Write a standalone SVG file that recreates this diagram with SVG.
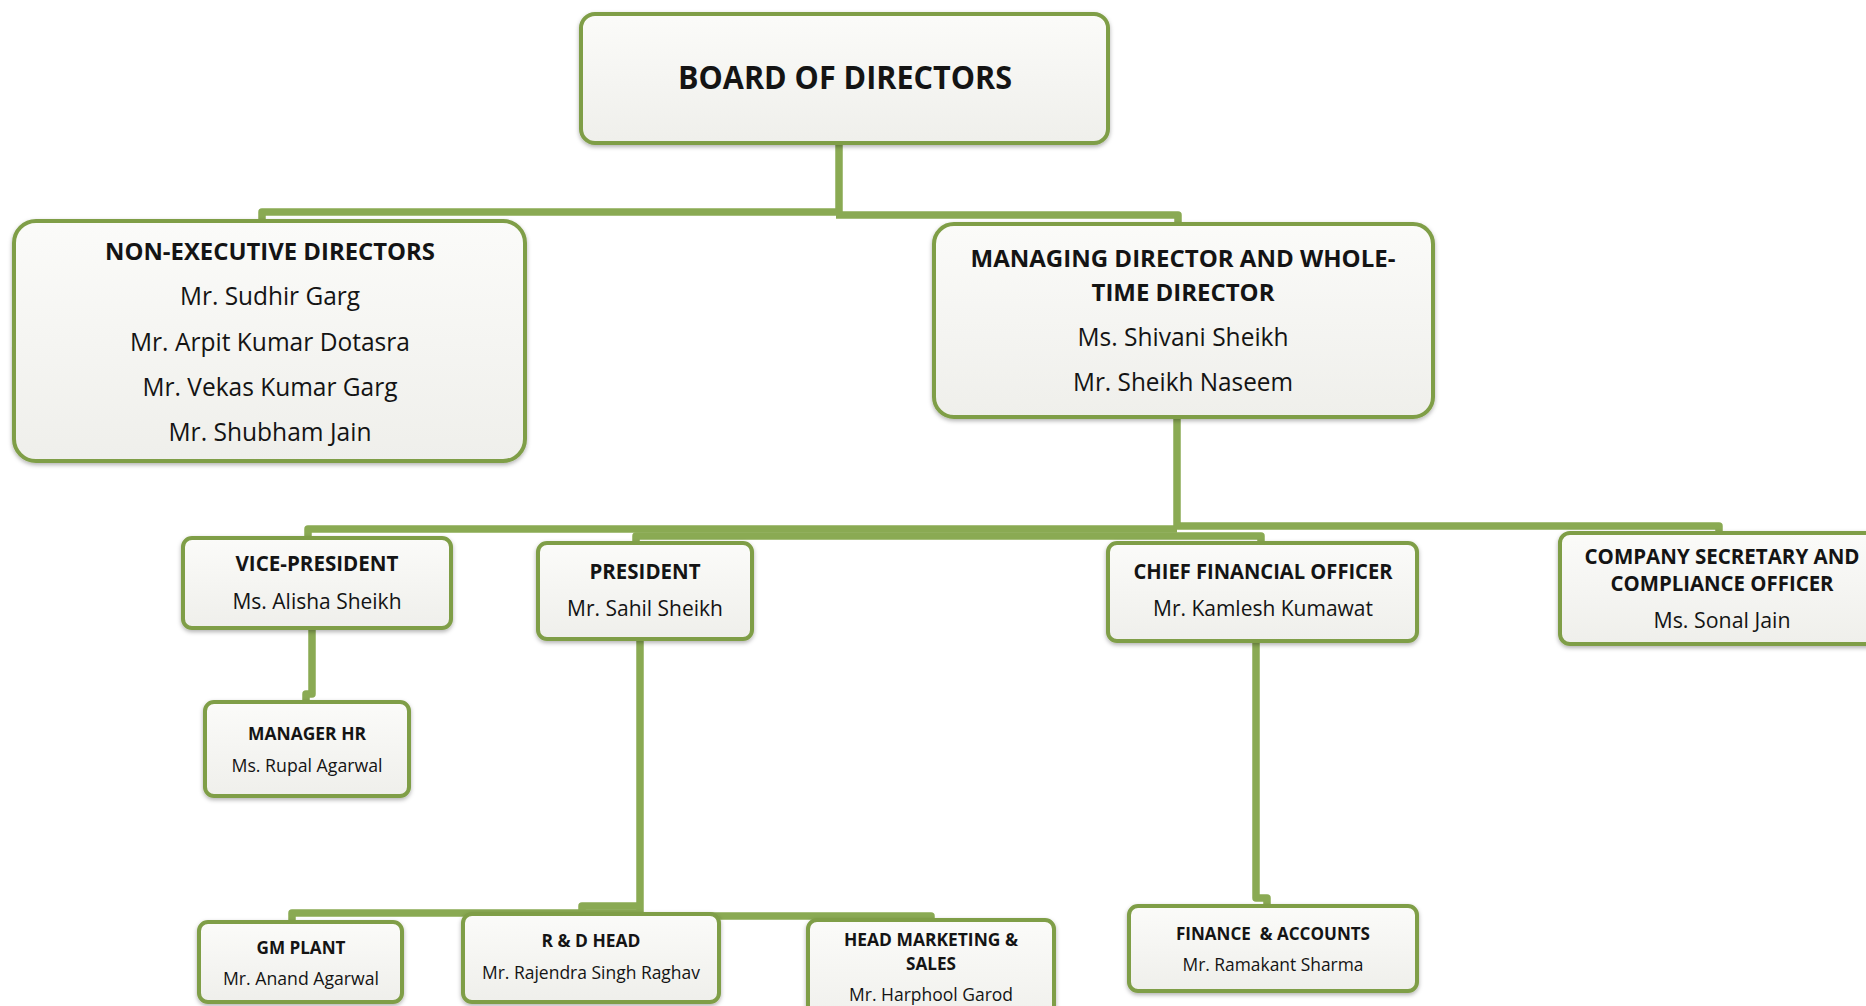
<svg xmlns="http://www.w3.org/2000/svg" width="1866" height="1006" viewBox="0 0 1866 1006">
<defs>
<linearGradient id="fillg" x1="0" y1="0" x2="0" y2="1">
<stop offset="0" stop-color="#fbfbf9"/>
<stop offset="0.5" stop-color="#f5f5f2"/>
<stop offset="1" stop-color="#efefeb"/>
</linearGradient>
<filter id="sh" x="-10%" y="-10%" width="120%" height="130%">
<feDropShadow dx="0" dy="2" stdDeviation="2" flood-color="#000" flood-opacity="0.3"/>
</filter>
</defs>
<style>
.box{fill:url(#fillg);stroke:#7f9e47;stroke-width:4;filter:url(#sh)}
.ln{fill:none;stroke:#8aaa53;stroke-width:7.5;stroke-linejoin:round}
text{font-family:"Open Sans","Liberation Sans",sans-serif;fill:#141414;text-anchor:middle}
.t{font-weight:bold}
</style>
<rect width="1866" height="1006" fill="#ffffff"/>
<g id="connectors">
<path class="ln" d="M839 143 V213"/>
<path class="ln" d="M842 212 H262 V222"/>
<path class="ln" d="M836 215 H1178 V225"/>
<path class="ln" d="M1177 417 V528"/>
<path class="ln" d="M1177 529 H308 V540"/>
<path class="ln" d="M636 545 V536 H1261 V545"/>
<path class="ln" d="M1177 526 H1719 V535"/>
<path class="ln" d="M312 628 V694 H306 V703"/>
<path class="ln" d="M640 639 V913"/>
<path class="ln" d="M643 913 H292 V923"/>
<path class="ln" d="M640 906 H582 V914"/>
<path class="ln" d="M637 916 H931 V921"/>
<path class="ln" d="M1256 641 V898 H1267 V907"/>
</g>
<g id="board">
<rect class="box" x="581" y="14" width="527" height="129" rx="14"/>
<text class="t" x="845" y="89" font-size="32" textLength="334" lengthAdjust="spacingAndGlyphs">BOARD OF DIRECTORS</text>
</g>
<g id="non-executive">
<rect class="box" x="14" y="221" width="511" height="240" rx="22"/>
<text class="t" x="270" y="260" font-size="23" textLength="330" lengthAdjust="spacingAndGlyphs">NON-EXECUTIVE DIRECTORS</text>
<text x="270" y="305" font-size="25" textLength="180" lengthAdjust="spacingAndGlyphs">Mr. Sudhir Garg</text>
<text x="270" y="351" font-size="25" textLength="280" lengthAdjust="spacingAndGlyphs">Mr. Arpit Kumar Dotasra</text>
<text x="270" y="396" font-size="25" textLength="255" lengthAdjust="spacingAndGlyphs">Mr. Vekas Kumar Garg</text>
<text x="270" y="441" font-size="25" textLength="203" lengthAdjust="spacingAndGlyphs">Mr. Shubham Jain</text>
</g>
<g id="managing-director">
<rect class="box" x="934" y="224" width="499" height="193" rx="20"/>
<text class="t" x="1183" y="267" font-size="23" textLength="425" lengthAdjust="spacingAndGlyphs">MANAGING DIRECTOR AND WHOLE-</text>
<text class="t" x="1183" y="301" font-size="23" textLength="183" lengthAdjust="spacingAndGlyphs">TIME DIRECTOR</text>
<text x="1183" y="346" font-size="25" textLength="211" lengthAdjust="spacingAndGlyphs">Ms. Shivani Sheikh</text>
<text x="1183" y="391" font-size="25" textLength="220" lengthAdjust="spacingAndGlyphs">Mr. Sheikh Naseem</text>
</g>
<g id="vice-president">
<rect class="box" x="183" y="538" width="268" height="90" rx="9"/>
<text class="t" x="317" y="571" font-size="21" textLength="163" lengthAdjust="spacingAndGlyphs">VICE-PRESIDENT</text>
<text x="317" y="609" font-size="21.5" textLength="169" lengthAdjust="spacingAndGlyphs">Ms. Alisha Sheikh</text>
</g>
<g id="president">
<rect class="box" x="538" y="543" width="214" height="96" rx="9"/>
<text class="t" x="645" y="579" font-size="21" textLength="111" lengthAdjust="spacingAndGlyphs">PRESIDENT</text>
<text x="645" y="616" font-size="21.5" textLength="156" lengthAdjust="spacingAndGlyphs">Mr. Sahil Sheikh</text>
</g>
<g id="cfo">
<rect class="box" x="1108" y="543" width="309" height="98" rx="9"/>
<text class="t" x="1263" y="579" font-size="21" textLength="259" lengthAdjust="spacingAndGlyphs">CHIEF FINANCIAL OFFICER</text>
<text x="1263" y="616" font-size="21.5" textLength="220" lengthAdjust="spacingAndGlyphs">Mr. Kamlesh Kumawat</text>
</g>
<g id="company-secretary">
<rect class="box" x="1560" y="533" width="330" height="111" rx="10"/>
<text class="t" x="1722" y="564" font-size="21" textLength="275" lengthAdjust="spacingAndGlyphs">COMPANY SECRETARY AND</text>
<text class="t" x="1722" y="591" font-size="21" textLength="223" lengthAdjust="spacingAndGlyphs">COMPLIANCE OFFICER</text>
<text x="1722" y="628" font-size="21.5" textLength="137" lengthAdjust="spacingAndGlyphs">Ms. Sonal Jain</text>
</g>
<g id="manager-hr">
<rect class="box" x="205" y="702" width="204" height="94" rx="9"/>
<text class="t" x="307" y="740" font-size="18.5" textLength="118" lengthAdjust="spacingAndGlyphs">MANAGER HR</text>
<text x="307" y="772" font-size="18.5" textLength="151" lengthAdjust="spacingAndGlyphs">Ms. Rupal Agarwal</text>
</g>
<g id="gm-plant">
<rect class="box" x="199" y="922" width="203" height="80" rx="9"/>
<text class="t" x="301" y="954" font-size="18.5" textLength="89" lengthAdjust="spacingAndGlyphs">GM PLANT</text>
<text x="301" y="985" font-size="18.5" textLength="156" lengthAdjust="spacingAndGlyphs">Mr. Anand Agarwal</text>
</g>
<g id="rd-head">
<rect class="box" x="463" y="914" width="256" height="88" rx="9"/>
<text class="t" x="591" y="947" font-size="18.5" textLength="99" lengthAdjust="spacingAndGlyphs">R &amp; D HEAD</text>
<text x="591" y="979" font-size="18.5" textLength="218" lengthAdjust="spacingAndGlyphs">Mr. Rajendra Singh Raghav</text>
</g>
<g id="head-marketing">
<rect class="box" x="808" y="920" width="246" height="110" rx="9"/>
<text class="t" x="931" y="946" font-size="18.5" textLength="174" lengthAdjust="spacingAndGlyphs">HEAD MARKETING &amp;</text>
<text class="t" x="931" y="970" font-size="18.5" textLength="50" lengthAdjust="spacingAndGlyphs">SALES</text>
<text x="931" y="1001" font-size="18.5" textLength="164" lengthAdjust="spacingAndGlyphs">Mr. Harphool Garod</text>
</g>
<g id="finance-accounts">
<rect class="box" x="1129" y="906" width="288" height="85" rx="9"/>
<text class="t" x="1273" y="940" font-size="18.5" textLength="194" lengthAdjust="spacingAndGlyphs" xml:space="preserve">FINANCE  &amp; ACCOUNTS</text>
<text x="1273" y="971" font-size="18.5" textLength="181" lengthAdjust="spacingAndGlyphs">Mr. Ramakant Sharma</text>
</g>
</svg>
